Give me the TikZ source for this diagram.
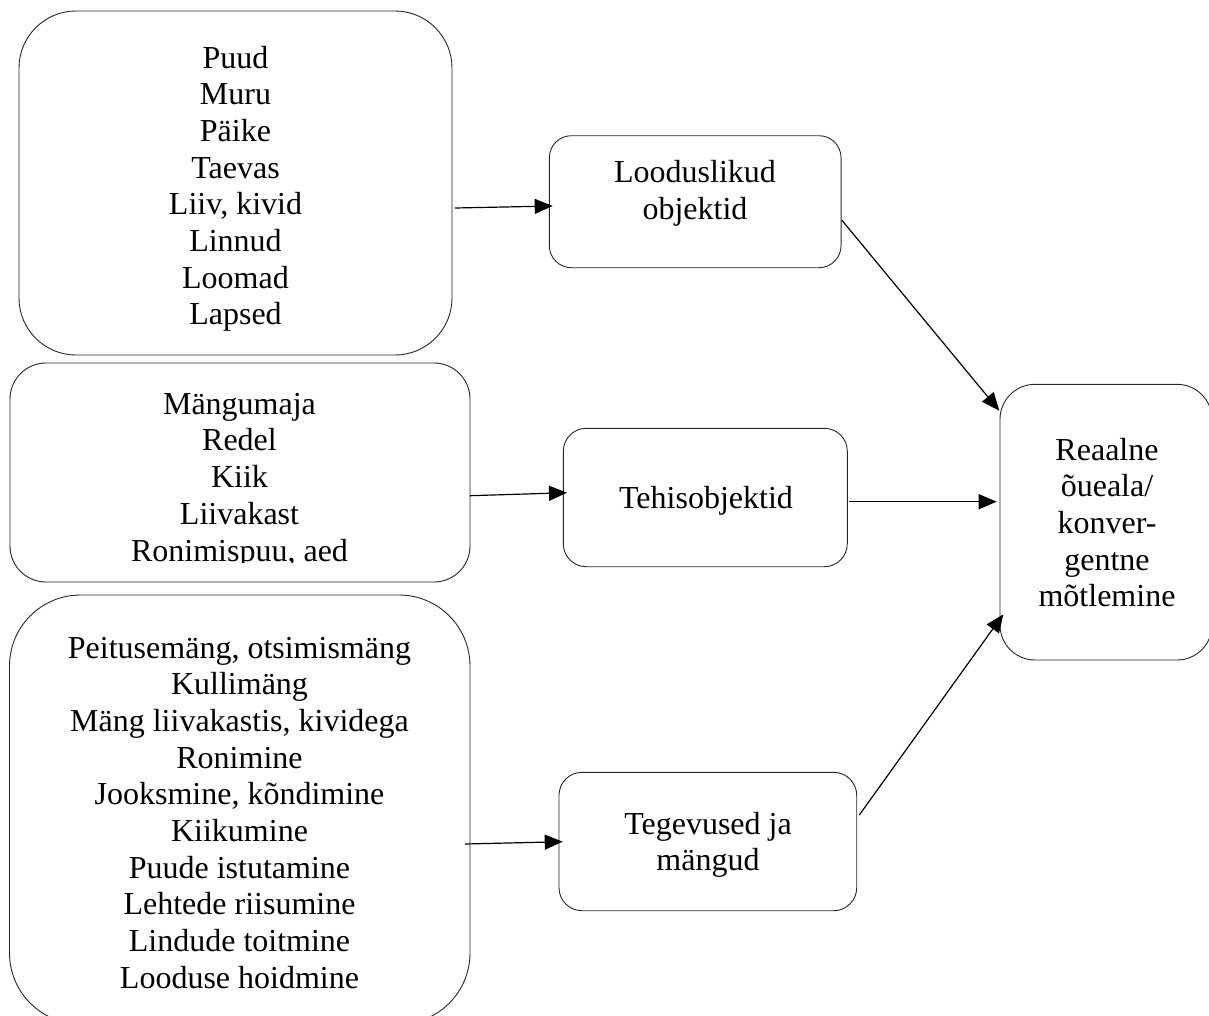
\documentclass[tikz,border=0pt]{standalone}
\usepackage{fontspec}
\setmainfont{Liberation Serif}
\usetikzlibrary{arrows.meta}
\tikzset{
  boxshape/.style={draw=black!85, line width=0.9pt, rectangle, inner sep=0pt, outer sep=0pt},
  txt/.style={font=\fontsize{32}{36.7}\selectfont, inner sep=0pt, anchor=base, text=black},
  conn/.style={line width=1.2pt, draw=black, -{Triangle[length=18pt,width=15pt]}}
}
\begin{document}
\begin{tikzpicture}[x=1pt,y=-1pt]
\useasboundingbox (0,0) rectangle (1209,1015);
\clip (0,0) rectangle (1209,1015);

% boxes
\node[boxshape, minimum width=433pt, minimum height=344pt, rounded corners=57pt] (b1) at (235.5,183) {};
\node[boxshape, minimum width=460pt, minimum height=219pt, rounded corners=36pt] (b2) at (240,472.5) {};
\node[boxshape, minimum width=460.5pt, minimum height=429pt, rounded corners=71pt] (b3) at (239.75,809.5) {};
\node[boxshape, minimum width=291.7pt, minimum height=132pt, rounded corners=22pt] (b4) at (695.2,201.7) {};
\node[boxshape, minimum width=284pt, minimum height=138.4pt, rounded corners=23pt] (b5) at (705.3,497.5) {};
\node[boxshape, minimum width=297.7pt, minimum height=138.4pt, rounded corners=23pt] (b6) at (707.85,841.5) {};
\node[boxshape, minimum width=212pt, minimum height=275.7pt, rounded corners=35pt] (b7) at (1106,522.15) {};

% box 1 text
\foreach \t [count=\i from 0] in {Puud,Muru,P\"aike,Taevas,{Liiv, kivid},Linnud,Loomad,Lapsed}
  \node[txt] (t1-\i) at (235.5,68.3+36.67*\i) {\t};

% box 2 text (last line clipped)
\begin{scope}
\clip (0,363) rectangle (480,562);
\foreach \t [count=\i from 0] in {M\"angumaja,Redel,Kiik,Liivakast,{Ronimispuu, aed}}
  \node[txt] (t2-\i) at (239.5,414+36.9*\i) {\t};
\end{scope}

% box 3 text
\foreach \t [count=\i from 0] in {{Peitusem\"ang, otsimism\"ang},Kullim\"ang,{M\"ang liivakastis, kividega},Ronimine,{Jooksmine, k\~ondimine},Kiikumine,Puude istutamine,Lehtede riisumine,Lindude toitmine,Looduse hoidmine}
  \node[txt] (t3-\i) at (239.5,658+36.67*\i) {\t};

% box 4 text
\node[txt] (t4-0) at (695,182.3) {Looduslikud};
\node[txt] (t4-1) at (695,219) {objektid};
% box 5 text
\node[txt] (t5-0) at (706,508.3) {Tehisobjektid};
% box 6 text
\node[txt] (t6-0) at (708,834) {Tegevused ja};
\node[txt] (t6-1) at (708,870.5) {m\"angud};
% box 7 text
\foreach \t [count=\i from 0] in {Reaalne,\~oueala/,konver-,gentne,m\~otlemine}
  \node[txt] (t7-\i) at (1107,460+36.7*\i) {\t};

% connector end points
\coordinate (a1s) at (455,208);     \coordinate (a1e) at (552.7,206);
\coordinate (a2s) at (470,495.7);   \coordinate (a2e) at (567,492.7);
\coordinate (a3s) at (465,844);     \coordinate (a3e) at (562.7,841.7);
\coordinate (a4s) at (841.7,220);   \coordinate (a4e) at (999.3,410.7);
\coordinate (a5s) at (849.3,501.7); \coordinate (a5e) at (996.7,501.7);
\coordinate (a6s) at (859.3,815);   \coordinate (a6e) at (1003.3,614.3);

\draw[conn] (a1s) -- (a1e);
\draw[conn] (a2s) -- (a2e);
\draw[conn] (a3s) -- (a3e);
\draw[conn] (a4s) -- (a4e);
\draw[conn] (a5s) -- (a5e);
\draw[conn] (a6s) -- (a6e);
\end{tikzpicture}
\end{document}
